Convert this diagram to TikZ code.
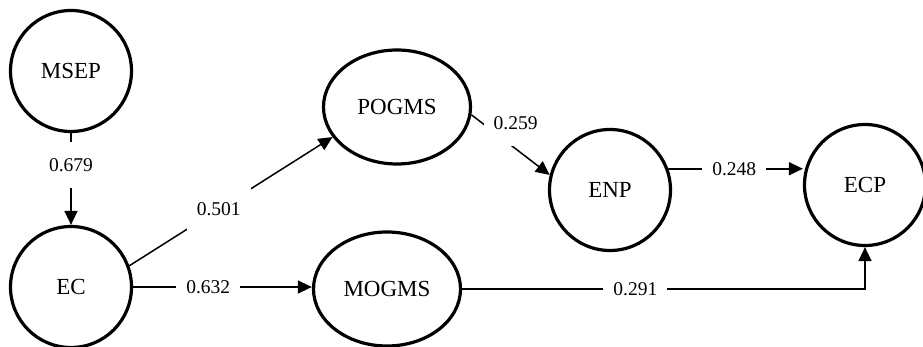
\documentclass[tikz,border=0pt]{standalone}
\usepackage{fontspec}
\setmainfont{Liberation Serif}
\usetikzlibrary{shapes,arrows.meta}
\tikzset{
  var/.style={circle,draw,line width=1.6pt,minimum size=60.5pt,inner sep=0pt,
    font=\fontsize{11.5}{13.8}\selectfont},
  varell/.style={ellipse,draw,line width=1.6pt,minimum width=73.5pt,minimum height=57pt,
    inner sep=0pt,font=\fontsize{11.5}{13.8}\selectfont},
  arr/.style={line width=0.75pt,-{Triangle[length=7pt,width=6.5pt]}},
  coef/.style={fill=white,inner xsep=5pt,inner ysep=0pt,minimum height=23pt,
    font=\fontsize{9.75}{11.7}\selectfont}
}
\begin{document}
\begin{tikzpicture}[x=0.5pt,y=-0.5pt]
		\useasboundingbox (0,0) rectangle (923,347);
		% constructs
		\node[var] (MSEP) at (71,71) {MSEP};
		\node[var] (EC) at (71,287) {EC};
		\node[varell] (POGMS) at (397,107) {POGMS};
		\node[varell] (MOGMS) at (387,289) {MOGMS};
		\node[var] (ENP) at (610,190) {ENP};
		\node[var] (ECP) at (865,185) {ECP};
		% paths
		\draw[arr] (MSEP.south) -- (EC.north) node[coef,pos=.35] {0.679};
		\draw[arr] (EC.20) -- (POGMS.205) node[coef,pos=.44] {0.501};
		\draw[arr] (EC.east) -- (EC.east -| MOGMS.west) node[coef,pos=.42] {0.632};
		\draw[arr] (POGMS.-6) -- (ENP.166) node[coef,pos=.385,xshift=7pt,yshift=7.5pt] {0.259};
		\draw[arr] (ENP.20) -- (ENP.20 -| ECP.west) node[coef,pos=.49] {0.248};
		\draw[arr] (MOGMS.east) -- (MOGMS.east -| ECP.south) node[coef,pos=.43] {0.291} -- (ECP.south);
	\end{tikzpicture}
\end{document}
